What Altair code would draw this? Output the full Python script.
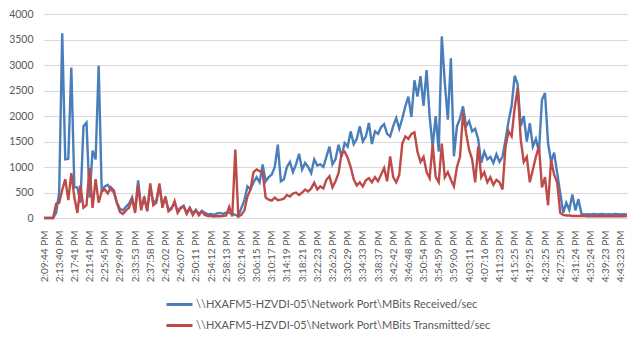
import json
import altair as alt
import pandas as pd

time_labels = [
    "2:09:44 PM", "2:13:40 PM", "2:17:41 PM", "2:21:41 PM", "2:25:45 PM",
    "2:29:49 PM", "2:33:53 PM", "2:37:58 PM", "2:42:02 PM", "2:46:07 PM",
    "2:50:11 PM", "2:54:12 PM", "2:58:13 PM", "3:02:14 PM", "3:06:15 PM",
    "3:10:17 PM", "3:14:19 PM", "3:18:21 PM", "3:22:23 PM", "3:26:26 PM",
    "3:30:29 PM", "3:34:33 PM", "3:38:37 PM", "3:42:42 PM", "3:46:48 PM",
    "3:50:54 PM", "3:54:59 PM", "3:59:06 PM", "4:03:11 PM", "4:07:16 PM",
    "4:11:23 PM", "4:15:25 PM", "4:19:25 PM", "4:23:25 PM", "4:27:25 PM",
    "4:31:24 PM", "4:35:24 PM", "4:39:23 PM", "4:43:23 PM",
]

received = [
    0, 0, 0, 0, 100, 500, 3620, 1150, 1160, 2950,
    600, 600, 300, 1800, 1870, 400, 1320, 1150, 2985, 550,
    620, 650, 560, 500, 300, 180, 150, 220, 280, 400,
    150, 740, 200, 380, 160, 600, 300, 350, 620, 260,
    380, 160, 200, 300, 140, 200, 240, 100, 200, 90,
    160, 80, 140, 100, 70, 80, 60, 90, 100, 80,
    110, 100, 80, 60, 40, 200, 350, 620, 560, 700,
    800, 700, 1050, 720, 800, 850, 1000, 1437, 720, 760,
    1000, 1100, 900, 1050, 1260, 950, 1080, 1000, 880, 1150,
    1030, 1050, 1000, 1200, 1400, 1050, 1150, 1437, 1200, 1470,
    1400, 1698, 1450, 1550, 1796, 1500, 1600, 1862, 1450, 1700,
    1650, 1780, 1840, 1650, 1600, 1800, 1960, 1750, 1950, 2190,
    2380, 1980, 2700, 2380, 2780, 2200, 2900, 1990, 1400, 2000,
    1300, 3560, 2650, 1930, 3130, 1210, 1800, 1950, 2190, 1800,
    1900, 1700, 1750, 1544, 1080, 1300, 1150, 1200, 1080, 1250,
    1100, 1200, 1535, 1900, 2200, 2789, 2620, 1800, 2000, 1500,
    1860, 1400, 1550, 1300, 2320, 2450, 1470, 1100, 1280, 885,
    490, 100, 300, 160, 460, 150, 370, 80, 70, 75,
    70, 80, 70, 75, 80, 70, 75, 70, 80, 75,
    70, 75, 70,
]

transmitted = [
    0, 0, 0, 0, 280, 300, 550, 760, 350, 880,
    400, 100, 640, 200, 250, 980, 200, 760, 300, 520,
    560, 480, 600, 540, 300, 120, 80, 150, 200, 380,
    100, 650, 150, 420, 130, 680, 250, 300, 680, 200,
    420, 130, 180, 330, 100, 190, 230, 80, 190, 60,
    150, 50, 130, 60, 40, 40, 30, 40, 35, 40,
    50, 220, 30, 1340, 30, 60, 150, 420, 560, 900,
    950, 920, 900, 400, 360, 340, 400, 350, 360, 380,
    450, 420, 480, 500, 450, 500, 560, 520, 580, 690,
    560, 620, 580, 750, 820, 600, 720, 880, 1270, 1300,
    1180, 1000, 760, 640, 700, 620, 740, 780, 700, 800,
    720, 850, 980, 720, 1207, 800, 700, 850, 1460, 1600,
    1550, 1650, 1680, 1300, 1100, 1200, 900, 780, 1437, 800,
    700, 1460, 800, 900, 750, 620, 1000, 1200, 2058, 1666,
    1340, 1150, 700, 1404, 800, 900, 700, 800, 650, 750,
    700, 560, 1404, 1700, 1600, 2156, 2548, 1535, 1100, 1200,
    700, 950, 1200, 1404, 600, 800, 250, 1140, 850, 700,
    100, 60, 50, 50, 40, 40, 40, 40, 40, 35,
    40, 35, 40, 35, 40, 35, 40, 35, 40, 35,
    40, 35, 40,
]

series_names = [
    "\\\\HXAFM5-HZVDI-05\\Network Port\\MBits Received/sec",
    "\\\\HXAFM5-HZVDI-05\\Network Port\\MBits Transmitted/sec",
]
series_colors = ["#4A7EBB", "#BE4B48"]

STEP = 5  # samples between labelled ticks
n = len(received)
df_r = pd.DataFrame({"idx": list(range(n)), "value": received, "series": series_names[0]})
df_t = pd.DataFrame({"idx": list(range(n)), "value": transmitted, "series": series_names[1]})

label_expr = json.dumps(time_labels) + "[round(datum.value / %d)]" % STEP
tick_vals = [i * STEP for i in range(len(time_labels))]

FONT = "Lato"
color = alt.Color(
    "series:N",
    scale=alt.Scale(domain=series_names, range=series_colors),
    legend=alt.Legend(
        title=None,
        orient="none",
        legendX=121,
        legendY=276,
        direction="vertical",
        symbolType="stroke",
        symbolSize=676,
        symbolStrokeWidth=3,
        labelFont=FONT,
        labelFontSize=11,
        labelColor="#595959",
        labelOffset=2,
        rowPadding=-3,
        padding=0,
        labelLimit=400,
    ),
)

x = alt.X(
    "idx:Q",
    scale=alt.Scale(domain=[0, n - 1], nice=False, zero=False),
    axis=alt.Axis(
        values=tick_vals,
        labelExpr=label_expr,
        labelAngle=-90,
        labelAlign="right",
        labelBaseline="middle",
        labelFont=FONT,
        labelFontSize=10,
        labelColor="#595959",
        labelPadding=12,
        labelOverlap=False,
        labelBound=False,
        labelFlush=False,
        grid=False,
        ticks=False,
        domainColor="#D9D9D9",
        title=None,
    ),
)
y = alt.Y(
    "value:Q",
    scale=alt.Scale(domain=[0, 4000], nice=False),
    axis=alt.Axis(
        values=list(range(0, 4001, 500)),
        format="d",
        labelFont=FONT,
        labelFontSize=10.5,
        labelColor="#595959",
        labelPadding=11,
        grid=True,
        gridColor="#D9D9D9",
        domain=False,
        ticks=False,
        title=None,
    ),
)

line_r = alt.Chart(df_r).mark_line(strokeWidth=2.4, interpolate="linear").encode(x=x, y=y, color=color)
line_t = alt.Chart(df_t).mark_line(strokeWidth=2.4, interpolate="linear").encode(x=x, y=y, color=color)

chart = (
    alt.layer(line_r, line_t)
    .properties(
        width=583,
        height=204,
        padding={"left": 44, "top": 14, "right": 17, "bottom": 125},
        autosize="none",
        background="white",
    )
    .configure_view(stroke=None)
)

chart.save("out.html", embed_options={"renderer": "svg", "actions": False})
